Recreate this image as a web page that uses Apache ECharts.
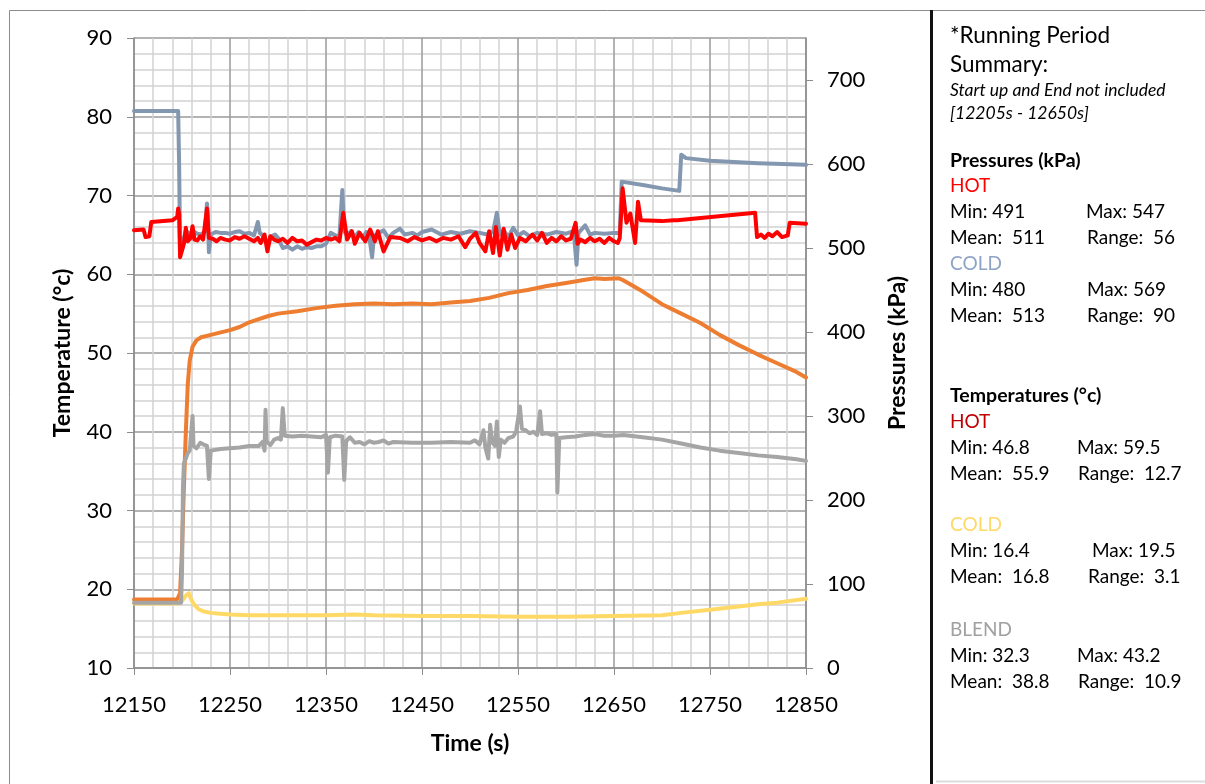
<!DOCTYPE html>
<html>
<head>
<meta charset="utf-8">
<title>Running Period – Pressures and Temperatures</title>
<script src="https://cdn.jsdelivr.net/npm/echarts@6/dist/echarts.min.js"></script>
<style>
  html, body { margin: 0; padding: 0; background: #ffffff; }
  #chart { width: 1205px; height: 784px; }
</style>
</head>
<body>
<div id="chart"></div>
<script>
// ---- Data: [time (s), value] ----
// Temperatures (°c), left axis
const hotTemp = [
  [12150,18.7],[12195,18.7],[12198,19.5],[12200,25],[12202,33],[12204,40],[12206,46],[12208,49],
  [12211,50.8],[12215,51.6],[12220,52.0],[12230,52.3],[12250,52.9],[12260,53.3],[12270,53.9],
  [12280,54.3],[12290,54.7],[12300,55.0],[12320,55.3],[12340,55.7],[12360,56.0],[12380,56.2],
  [12400,56.3],[12420,56.2],[12440,56.3],[12460,56.2],[12480,56.4],[12500,56.6],[12520,57.0],
  [12540,57.6],[12560,58.0],[12580,58.5],[12600,58.9],[12620,59.3],[12630,59.5],[12640,59.4],
  [12655,59.5],[12660,59.2],[12670,58.5],[12680,57.8],[12690,57.0],[12700,56.2],[12720,55.0],
  [12740,53.8],[12760,52.3],[12780,51.0],[12800,49.8],[12820,48.7],[12840,47.6],[12850,46.9]
];
const coldTemp = [
  [12150,18.2],[12195,18.2],[12200,18.5],[12204,19.2],[12207,19.5],[12210,18.6],[12213,18.0],
  [12217,17.5],[12222,17.2],[12230,17.0],[12240,16.9],[12250,16.8],[12270,16.7],[12300,16.7],
  [12350,16.7],[12380,16.8],[12400,16.7],[12450,16.6],[12500,16.6],[12550,16.5],[12600,16.5],
  [12650,16.6],[12700,16.7],[12720,17.0],[12750,17.4],[12780,17.8],[12800,18.1],[12820,18.3],
  [12850,18.8]
];
const blendTemp = [
  [12150,18.3],[12199,18.3],[12200,22],[12201,33],[12202,36.0],[12204,36.6],[12206,37.3],
  [12208,37.6],[12210,37.8],[12211,42.0],[12212,38.2],[12215,37.9],[12219,38.6],[12222,38.4],
  [12226,38.2],[12228,34.0],[12230,37.6],[12240,37.8],[12250,37.9],[12260,38.0],[12270,38.2],
  [12280,38.2],[12284,38.7],[12286,37.6],[12287,42.8],[12288,38.8],[12292,38.3],[12296,39.0],
  [12300,39.2],[12303,39.0],[12305,43.0],[12307,39.5],[12315,39.4],[12325,39.5],[12335,39.4],
  [12345,39.3],[12350,39.6],[12352,34.8],[12354,39.3],[12360,39.5],[12367,39.4],[12369,33.9],
  [12371,38.8],[12375,39.3],[12380,38.6],[12385,38.7],[12390,38.4],[12395,38.8],[12400,38.6],
  [12405,38.7],[12410,38.9],[12415,38.5],[12420,38.7],[12440,38.6],[12460,38.6],[12480,38.7],
  [12500,38.6],[12505,38.9],[12510,38.4],[12514,40.2],[12516,38.0],[12519,36.6],[12521,40.9],
  [12523,38.7],[12526,38.2],[12528,41.3],[12530,36.8],[12532,39.0],[12536,38.6],[12540,39.2],
  [12545,39.4],[12548,40.0],[12552,43.2],[12554,40.4],[12558,40.2],[12562,39.8],[12566,40.0],
  [12570,39.6],[12573,42.6],[12575,39.7],[12580,39.8],[12585,39.6],[12590,39.7],[12591,32.3],
  [12593,39.2],[12600,39.3],[12610,39.4],[12620,39.6],[12630,39.7],[12640,39.5],[12650,39.5],
  [12660,39.6],[12680,39.3],[12700,39.0],[12720,38.5],[12740,38.0],[12760,37.6],[12780,37.3],
  [12800,37.0],[12820,36.8],[12840,36.5],[12850,36.3]
];
// Pressures (kPa), right axis
const coldPress = [
  [12150,663],[12196,663],[12197,600],[12198,500],[12200,497],[12202,512],[12204,520],[12207,518],
  [12210,514],[12213,519],[12216,517],[12220,516],[12224,520],[12226,553],[12227,540],[12228,495],
  [12230,516],[12235,519],[12240,518],[12245,518],[12250,517],[12255,519],[12260,520],[12265,517],
  [12270,518],[12275,515],[12279,531],[12281,518],[12285,514],[12290,505],[12293,514],[12297,516],
  [12300,512],[12305,500],[12310,502],[12315,498],[12320,502],[12325,499],[12330,501],[12335,500],
  [12340,502],[12345,502],[12350,505],[12355,518],[12360,515],[12364,514],[12367,569],[12369,520],
  [12372,515],[12376,520],[12380,513],[12384,519],[12388,512],[12392,519],[12395,514],[12398,489],
  [12400,514],[12405,518],[12410,521],[12415,512],[12420,518],[12427,523],[12432,516],[12440,518],
  [12445,515],[12450,519],[12460,522],[12470,516],[12480,519],[12490,517],[12500,520],[12510,518],
  [12518,516],[12524,519],[12528,542],[12531,516],[12535,521],[12540,513],[12545,524],[12550,515],
  [12556,519],[12562,514],[12570,518],[12580,516],[12590,519],[12600,517],[12608,520],[12611,480],
  [12613,518],[12620,527],[12625,516],[12630,518],[12640,517],[12650,518],[12656,518],[12658,579],
  [12660,578],[12680,575],[12700,571],[12718,568],[12720,611],[12725,607],[12750,604],[12800,601],
  [12850,599]
];
const hotPress = [
  [12150,521],[12160,522],[12162,513],[12166,514],[12168,531],[12190,533],[12195,537],[12196,547],
  [12197,540],[12198,489],[12200,490],[12202,505],[12204,524],[12206,508],[12209,512],[12211,526],
  [12213,510],[12216,509],[12219,514],[12222,510],[12226,547],[12228,512],[12232,511],[12236,508],
  [12240,512],[12245,510],[12250,509],[12255,513],[12260,511],[12265,514],[12270,511],[12275,508],
  [12279,512],[12282,506],[12286,516],[12289,496],[12292,514],[12296,510],[12300,508],[12305,511],
  [12310,506],[12315,512],[12320,508],[12325,509],[12330,504],[12335,507],[12340,510],[12345,509],
  [12350,512],[12355,510],[12360,512],[12364,508],[12368,542],[12372,510],[12377,520],[12380,505],
  [12385,518],[12391,508],[12396,522],[12401,508],[12404,520],[12410,496],[12417,513],[12427,512],
  [12435,508],[12442,513],[12450,509],[12458,512],[12465,508],[12472,512],[12480,510],[12488,514],
  [12495,501],[12500,511],[12506,518],[12510,506],[12516,496],[12520,520],[12524,494],[12527,525],
  [12531,491],[12535,523],[12539,498],[12543,516],[12547,500],[12552,512],[12558,508],[12565,516],
  [12570,509],[12575,518],[12580,506],[12585,512],[12590,508],[12595,514],[12600,509],[12605,511],
  [12610,530],[12612,505],[12615,510],[12620,507],[12625,512],[12630,508],[12635,511],[12640,506],
  [12645,512],[12650,508],[12654,506],[12656,512],[12659,571],[12663,530],[12667,541],[12672,506],
  [12675,555],[12678,533],[12680,531],[12700,532],[12712,533],[12714,535],[12716,533],[12797,542],
  [12799,513],[12803,516],[12807,512],[12811,517],[12815,514],[12820,519],[12825,513],[12831,515],
  [12833,530],[12850,529]
];

// Axis ticks
const timeTicks = [12150, 12250, 12350, 12450, 12550, 12650, 12750, 12850];
const tempTicks = [10, 20, 30, 40, 50, 60, 70, 80, 90];
const pressTicks = [0, 100, 200, 300, 400, 500, 600, 700];

// Summary statistics (min, max, mean, range)
const hotPressStats = ['491', '547', '511', '56'];
const coldPressStats = ['480', '569', '513', '90'];
const hotTempStats = ['46.8', '59.5', '55.9', '12.7'];
const coldTempStats = ['16.4', '19.5', '16.8', '3.1'];
const blendTempStats = ['32.3', '43.2', '38.8', '10.9'];

const FONT = 'Lato, "Open Sans", sans-serif';
const chart = echarts.init(document.getElementById('chart'), null, { renderer: 'canvas' });

function line(name, data, color, axisIndex) {
  return {
    name, type: 'line', data, yAxisIndex: axisIndex,
    showSymbol: false, symbol: 'none', animation: false,
    lineStyle: { color, width: 4, join: 'round', cap: 'round' },
    itemStyle: { color }
  };
}

// Summary panel text
const panel = [];
const STAT = '19px ' + FONT;
function txt(x, y, text, opts) {
  panel.push({
    type: 'text', x, y, silent: true,
    style: Object.assign({ text, fill: '#000', font: STAT, textVerticalAlign: 'middle' }, opts || {})
  });
}
txt(950, 36, '*Running Period', { font: '22.5px ' + FONT });
txt(950, 65, 'Summary:', { font: '22.5px ' + FONT });
txt(950, 90, 'Start up and End not included', { font: 'italic 17.5px ' + FONT });
txt(950, 113, '[12205s - 12650s]', { font: 'italic 17.5px ' + FONT });

function block(y0, head, headColor, stats, maxX, rangeX) {
  txt(950, y0, head, { fill: headColor });
  txt(950, y0 + 26, 'Min: ' + stats[0]);
  txt(maxX, y0 + 26, 'Max: ' + stats[1]);
  txt(950, y0 + 52, 'Mean:  ' + stats[2]);
  txt(rangeX, y0 + 52, 'Range:  ' + stats[3]);
}
txt(950, 161, 'Pressures (kPa)', { font: 'bold 19.5px ' + FONT });
block(186, 'HOT', '#ff0000', hotPressStats, 1086, 1087);
block(264, 'COLD', '#8ea4c4', coldPressStats, 1087, 1087);
txt(950, 396, 'Temperatures (°c)', { font: 'bold 19.5px ' + FONT });
block(422, 'HOT', '#c00000', hotTempStats, 1077, 1078);
block(525, 'COLD', '#ffd966', coldTempStats, 1092, 1088);
block(630, 'BLEND', '#a0a0a0', blendTempStats, 1077, 1078);

const frame = [
  { type: 'rect', silent: true, z: -1, shape: { x: 9.5, y: 10.5, width: 1210, height: 800 },
    style: { fill: 'none', stroke: '#8c8c8c', lineWidth: 1 } },
  { type: 'line', silent: true, shape: { x1: 931.5, y1: 10, x2: 931.5, y2: 784 },
    style: { stroke: '#111', lineWidth: 3 } },
  { type: 'line', silent: true, shape: { x1: 936, y1: 781.5, x2: 1205, y2: 781.5 },
    style: { stroke: '#dcdcdc', lineWidth: 2 } }
];

const axisGrey = '#8c8c8c';
chart.setOption({
  animation: false,
  backgroundColor: '#ffffff',
  textStyle: { fontFamily: FONT },
  grid: { left: 134, right: 399, top: 38, bottom: 116, containLabel: false },
  xAxis: {
    type: 'value', min: 12150, max: 12850, interval: 100,
    name: 'Time (s)', nameLocation: 'middle', nameGap: 64,
    nameTextStyle: { fontSize: 23, fontWeight: 'bold', color: '#000', fontFamily: FONT },
    axisLine: { show: true, onZero: false, lineStyle: { color: axisGrey, width: 1.5 } },
    axisTick: { show: true, length: 7, customValues: timeTicks, lineStyle: { color: axisGrey } },
    axisLabel: {
      fontSize: 22, color: '#000', margin: 26, fontFamily: FONT, customValues: timeTicks,
      formatter: v => String(v)
    },
    splitLine: { show: true, lineStyle: { color: '#9a9a9a', width: 1.5 } },
    minorTick: { show: false, splitNumber: 5 },
    minorSplitLine: { show: true, lineStyle: { color: '#d2d2d2', width: 1.5 } }
  },
  yAxis: [
    {
      type: 'value', min: 10, max: 90, interval: 10, position: 'left',
      name: 'Temperature (°c)', nameLocation: 'middle', nameGap: 60, nameRotate: 90,
      nameTextStyle: { fontSize: 23, fontWeight: 'bold', color: '#000', fontFamily: FONT },
      axisLine: { show: true, lineStyle: { color: axisGrey, width: 1.5 } },
      axisTick: { show: true, length: 7, lineStyle: { color: axisGrey } },
      axisLabel: { fontSize: 22, color: '#000', margin: 22, fontFamily: FONT, customValues: tempTicks },
      splitLine: { show: true, lineStyle: { color: '#9a9a9a', width: 1.5 } },
      minorTick: { show: false, splitNumber: 5 },
      minorSplitLine: { show: true, lineStyle: { color: '#d2d2d2', width: 1.5 } }
    },
    {
      type: 'value', min: 0, max: 750, interval: 100, position: 'right',
      name: 'Pressures (kPa)', nameLocation: 'middle', nameGap: 80, nameRotate: 90,
      nameTextStyle: { fontSize: 23, fontWeight: 'bold', color: '#000', fontFamily: FONT },
      axisLine: { show: true, lineStyle: { color: axisGrey, width: 1.5 } },
      axisTick: { show: true, length: 7, customValues: pressTicks, lineStyle: { color: axisGrey } },
      axisLabel: { fontSize: 22, color: '#000', margin: 21, fontFamily: FONT, customValues: pressTicks },
      splitLine: { show: false }
    }
  ],
  series: [
    line('HOT temperature', hotTemp, '#ed7d31', 0),
    line('COLD temperature', coldTemp, '#ffd966', 0),
    line('BLEND temperature', blendTemp, '#a5a5a5', 0),
    line('COLD pressure', coldPress, '#8497b0', 1),
    line('HOT pressure', hotPress, '#ff0000', 1)
  ],
  graphic: frame.concat(panel)
});
</script>
</body>
</html>
